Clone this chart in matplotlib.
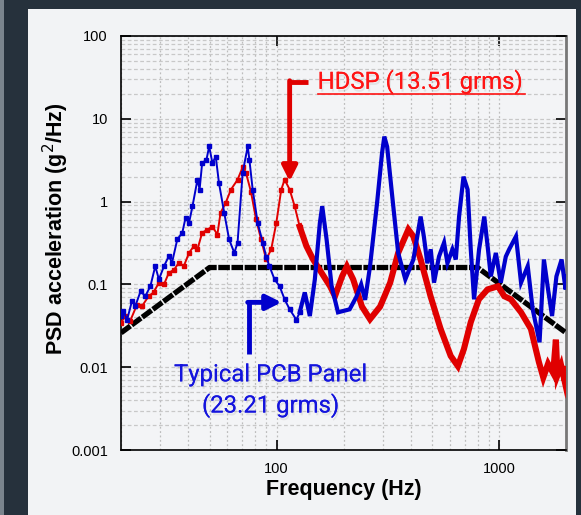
import matplotlib
matplotlib.use('Agg')
import matplotlib.pyplot as plt
import matplotlib.ticker as mticker
import matplotlib.patheffects as pe
from matplotlib.patches import Rectangle

# spec profile (black)
spec_f = [20, 50, 800, 2000]
spec_psd = [0.026, 0.16, 0.16, 0.026]

# HDSP (red)
hdsp_f = [20, 20.9, 22, 23.6, 24.9, 26.6, 28, 29.6, 31.2, 32.8, 34.6, 36.4, 38.3, 40.4, 42.5,
          44.1, 46.3, 48.9, 51.5, 54.2, 56, 59, 62.4, 66.8, 70.4, 72.9, 76.8, 80.9, 85.2, 89.8,
          94.6, 99.7, 105, 108.7, 114.5, 120.6, 127, 136.2, 146, 159.3, 174, 183, 197, 207,
          221, 242, 263, 292, 324, 352, 391, 412, 444, 492, 546, 606, 653, 695, 746, 811, 888,
          989, 1055, 1130, 1255, 1390, 1510, 1580, 1660, 1750, 1800, 1830, 1900, 1970, 2000]
hdsp_psd = [0.0345, 0.0415, 0.0363, 0.057, 0.055, 0.072, 0.08, 0.105, 0.1, 0.138, 0.15, 0.183,
            0.166, 0.24, 0.29, 0.265, 0.42, 0.46, 0.5, 0.4, 0.73, 0.96, 1.4, 1.84, 2.6, 2.22,
            1.3, 0.61, 0.35, 0.2, 0.265, 0.55, 1.4, 1.84, 1.4, 0.88, 0.5, 0.29, 0.2, 0.138,
            0.095, 0.072, 0.125, 0.165, 0.115, 0.054, 0.038, 0.054, 0.105, 0.24, 0.46, 0.38,
            0.2, 0.072, 0.029, 0.0137, 0.0103, 0.0166, 0.035, 0.066, 0.087, 0.095, 0.072,
            0.066, 0.046, 0.029, 0.0115, 0.0075, 0.011, 0.0085, 0.0215, 0.008, 0.0105, 0.0068,
            0.0095]

# Typical PCB panel (blue)
pcb_f = [20, 20.5, 21.3, 22.4, 23.2, 24.5, 25.7, 27.1, 28.5, 29.6, 31.2, 32.8, 33.9, 35.8,
         37.7, 39, 40.4, 41.9, 44.1, 45.1, 46.3, 48.4, 49.8, 51.5, 53.3, 55.1, 58.2, 61.2, 64.6,
         66.8, 70.4, 74.2, 75.5, 78.1, 82.3, 86.7, 89.8, 92.9, 97.9, 103.2, 108.7, 114.5,
         122.7, 127.1, 133.9, 141.1, 148.6, 156.5, 160.4, 167.8, 176.8, 188.8, 213, 228, 240,
         250, 263, 283, 298, 305, 314, 331, 352, 379, 412, 444, 459, 476, 493, 510, 537, 566,
         586, 617, 639, 661, 692, 722, 746, 772, 813, 858, 888, 918, 967, 1018, 1072, 1110,
         1191, 1255, 1345, 1416, 1520, 1590, 1660, 1730, 1810, 1910, 1990, 2000]
pcb_psd = [0.0415, 0.0478, 0.0375, 0.063, 0.055, 0.083, 0.072, 0.095, 0.166, 0.115, 0.166,
           0.219, 0.183, 0.35, 0.42, 0.64, 0.55, 0.88, 1.84, 1.4, 2.92, 3.2, 4.64, 2.92, 3.5,
           1.68, 0.73, 0.35, 0.24, 0.32, 2.22, 4.64, 3.2, 1.4, 0.55, 0.32, 0.217, 0.166, 0.115,
           0.095, 0.066, 0.05, 0.0375, 0.046, 0.08, 0.0415, 0.115, 0.55, 0.88, 0.35, 0.095,
           0.046, 0.05, 0.07, 0.1, 0.065, 0.165, 0.97, 3.9, 6.1, 4.6, 1.16, 0.24, 0.115, 0.2,
           0.66, 0.38, 0.18, 0.265, 0.105, 0.217, 0.32, 0.18, 0.265, 0.2, 0.66, 2.0, 1.4,
           0.265, 0.066, 0.265, 0.66, 0.29, 0.125, 0.24, 0.105, 0.217, 0.265, 0.38, 0.105,
           0.166, 0.05, 0.02, 0.2, 0.087, 0.0415, 0.125, 0.2, 0.087, 0.125]

red = '#e00000'
blue = '#0000cc'

fig = plt.figure(figsize=(5.81, 5.15), dpi=100)
fig.patch.set_facecolor('#26313c')
fig.patches.append(Rectangle((0, 0), 0.007, 1, transform=fig.transFigure,
                             facecolor='#7a848d', zorder=-10))
fig.patches.append(Rectangle((0.048, 0), 0.943, 0.9825, transform=fig.transFigure,
                             facecolor='#f2f3f5', zorder=-10))

ax = fig.add_axes([0.2083, 0.1262, 0.766, 0.8039])
ax.set_facecolor('#f3f4f6')
ax.set_xscale('log')
ax.set_yscale('log')
ax.set_xlim(20, 2000)
ax.set_ylim(0.001, 100)

ax.xaxis.grid(True, which='both', ls=(0, (1.5, 2)), color='#bdbdbd', lw=0.9)
ax.yaxis.grid(True, which='both', ls=(0, (3, 2)), color='#c8c8c8', lw=0.9)
ax.set_axisbelow(True)

ax.plot(spec_f, spec_psd, color='black', lw=3.8, ls=(0, (2.2, 0.3)), dash_capstyle='butt',
        zorder=3)

split_r = next(i for i, f in enumerate(hdsp_f) if f >= 125)
split_b = next(i for i, f in enumerate(pcb_f) if f >= 125)
ax.plot(hdsp_f[:split_r + 1], hdsp_psd[:split_r + 1], color=red, lw=1.4, marker='s', ms=2.2,
        zorder=4)
ax.plot(hdsp_f[split_r:], hdsp_psd[split_r:], color=red, lw=4.4, solid_joinstyle='miter',
        zorder=4)
ax.plot(pcb_f[:split_b + 1], pcb_psd[:split_b + 1], color=blue, lw=1.4, marker='s', ms=2.2,
        zorder=5)
ax.plot(pcb_f[split_b:], pcb_psd[split_b:], color=blue, lw=3, solid_joinstyle='miter',
        zorder=5)

fmt = mticker.FuncFormatter(lambda v, p: '%g' % v)
ax.xaxis.set_major_formatter(fmt)
ax.yaxis.set_major_formatter(fmt)
ax.xaxis.set_minor_formatter(mticker.NullFormatter())
ax.yaxis.set_minor_formatter(mticker.NullFormatter())
ax.tick_params(which='major', direction='in', length=7, width=1.2, top=True, right=True,
               labelsize=10.5, colors='black')
ax.tick_params(axis='y', which='major', pad=9.5)
ax.tick_params(axis='x', which='major', pad=8.5)
ax.tick_params(which='minor', length=0)
for s in ['left', 'bottom', 'top']:
    ax.spines[s].set_linewidth(1.2)
ax.spines['right'].set_linewidth(2)
ax.spines['right'].set_color('#777777')

lab_font = ['Liberation Sans', 'DejaVu Sans']
ax.set_ylabel('PSD acceleration (g$^2$/Hz)', fontsize=15.5, fontweight='bold', family=lab_font)
ax.yaxis.set_label_coords(-0.112, 0.535)
ax.set_xlabel('Frequency (Hz)', fontsize=15.5, fontweight='bold', family=lab_font)
ax.xaxis.set_label_coords(0.5, -0.07)
for t in ax.get_xticklabels() + ax.get_yticklabels():
    t.set_family(lab_font)

shadow = [pe.withSimplePatchShadow(offset=(1, -2), shadow_rgbFace='#999999', alpha=0.18),
          pe.Normal()]

# red callout
ax.plot([138, 114.5], [27.9, 27.9], color=red, lw=3.5, solid_capstyle='butt', zorder=6)
ax.annotate('', xy=(114.5, 1.75), xytext=(114.5, 28.8),
            arrowprops=dict(arrowstyle='-|>,head_length=0.9,head_width=0.45', lw=3.5,
                            color=red, shrinkA=0, shrinkB=0), zorder=6)
ax.text(153, 27.9, 'HDSP (13.51 grms)', color='#ff1414', fontsize=17.2, family='Roboto',
        ha='left', va='center', zorder=7, path_effects=shadow)
ax.plot([153, 1312], [20, 20], color='#ff1414', lw=1.2, zorder=7)

# blue callout
ax.plot([75.5, 75.5], [0.0144, 0.0607], color=blue, lw=3.5, solid_capstyle='butt', zorder=6)
ax.annotate('', xy=(105.3, 0.0607), xytext=(74.2, 0.0607),
            arrowprops=dict(arrowstyle='-|>,head_length=0.9,head_width=0.45', lw=3.5,
                            color=blue, shrinkA=0, shrinkB=0), zorder=6)
ax.text(94, 0.0052, 'Typical PCB Panel\n(23.21 grms)', color='#1414dd', fontsize=17.2,
        family='Roboto', ha='center', va='center', linespacing=1.35, zorder=7,
        path_effects=shadow)

fig.savefig('out.png', dpi=100, facecolor=fig.get_facecolor())
